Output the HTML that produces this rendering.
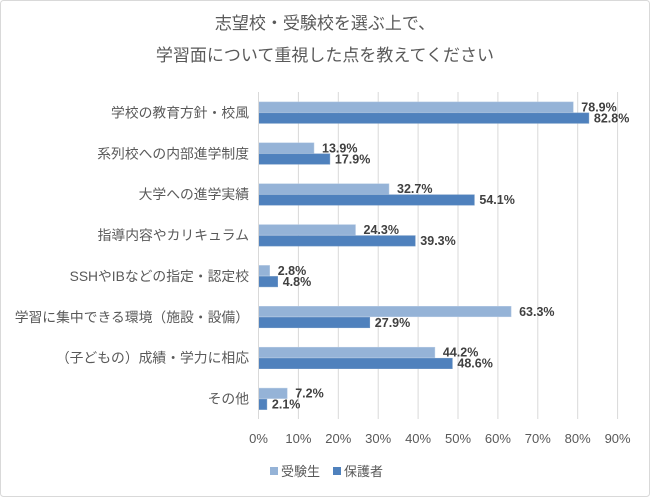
<!DOCTYPE html>
<html><head><meta charset="utf-8"><style>
body{margin:0;background:#fff}
svg text{font-family:"Liberation Sans","Noto Sans CJK JP",sans-serif}
</style></head><body>
<svg width="650" height="497" viewBox="0 0 650 497" xmlns="http://www.w3.org/2000/svg">
<rect x="0.5" y="0.5" width="649" height="496" rx="3" fill="#fff" stroke="#d9d9d9"/>
<text x="325" y="29" font-size="17" fill="#595959" text-anchor="middle">志望校・受験校を選ぶ上で、</text>
<text x="325" y="61" font-size="17" fill="#595959" text-anchor="middle">学習面について重視した点を教えてください</text>
<g stroke="#d9d9d9" stroke-width="1">
<line x1="298.4" y1="92" x2="298.4" y2="419"/><line x1="338.3" y1="92" x2="338.3" y2="419"/>
<line x1="378.2" y1="92" x2="378.2" y2="419"/><line x1="418.1" y1="92" x2="418.1" y2="419"/>
<line x1="458" y1="92" x2="458" y2="419"/><line x1="497.9" y1="92" x2="497.9" y2="419"/>
<line x1="537.8" y1="92" x2="537.8" y2="419"/><line x1="577.7" y1="92" x2="577.7" y2="419"/>
<line x1="617.6" y1="92" x2="617.6" y2="419"/>
</g>
<g font-size="13.8" fill="#595959" text-anchor="end">
<text x="249" y="117.4">学校の教育方針・校風</text>
<text x="249" y="158.3">系列校への内部進学制度</text>
<text x="249" y="199.2">大学への進学実績</text>
<text x="249" y="240.1">指導内容やカリキュラム</text>
<text x="249" y="280.9">SSHやIBなどの指定・認定校</text>
<text x="249" y="321.8">学習に集中できる環境（施設・設備）</text>
<text x="249" y="362.7">（子どもの）成績・学力に相応</text>
<text x="249" y="403.6">その他</text>
</g>
<g fill="#95b3d7" stroke="#b8cce4" stroke-width="0.5">
<rect x="258.5" y="101.9" width="314.8" height="10.5"/>
<rect x="258.5" y="142.8" width="55.5" height="10.5"/>
<rect x="258.5" y="183.7" width="130.5" height="10.5"/>
<rect x="258.5" y="224.6" width="97" height="10.5"/>
<rect x="258.5" y="265.4" width="11.2" height="10.5"/>
<rect x="258.5" y="306.3" width="252.6" height="10.5"/>
<rect x="258.5" y="347.2" width="176.4" height="10.5"/>
<rect x="258.5" y="388.1" width="28.7" height="10.5"/>
</g>
<g fill="#4f81bd" stroke="#7399c6" stroke-width="0.5">
<rect x="258.5" y="112.9" width="330.4" height="10.5"/>
<rect x="258.5" y="153.8" width="71.4" height="10.5"/>
<rect x="258.5" y="194.7" width="215.9" height="10.5"/>
<rect x="258.5" y="235.6" width="156.8" height="10.5"/>
<rect x="258.5" y="276.4" width="19.2" height="10.5"/>
<rect x="258.5" y="317.3" width="111.3" height="10.5"/>
<rect x="258.5" y="358.2" width="193.9" height="10.5"/>
<rect x="258.5" y="399.1" width="8.4" height="10.5"/>
</g>
<g font-size="12.5" font-weight="bold" fill="#404040">
<text x="581.3" y="111.4">78.9%</text><text x="593.9" y="122.4">82.8%</text>
<text x="322" y="152.3">13.9%</text><text x="334.9" y="163.3">17.9%</text>
<text x="397" y="193.2">32.7%</text><text x="479.4" y="204.2">54.1%</text>
<text x="363.5" y="234.1">24.3%</text><text x="420.3" y="245.1">39.3%</text>
<text x="277.7" y="274.9">2.8%</text><text x="282.7" y="285.9">4.8%</text>
<text x="519.1" y="315.8">63.3%</text><text x="374.8" y="326.8">27.9%</text>
<text x="442.9" y="356.7">44.2%</text><text x="457.4" y="367.7">48.6%</text>
<text x="295.2" y="397.6">7.2%</text><text x="271.9" y="408.6">2.1%</text>
</g>
<line x1="258.5" y1="92" x2="258.5" y2="419" stroke="#d9d9d9"/>
<g font-size="13" fill="#595959" text-anchor="middle">
<text x="258.5" y="443">0%</text><text x="298.4" y="443">10%</text><text x="338.3" y="443">20%</text>
<text x="378.2" y="443">30%</text><text x="418.1" y="443">40%</text><text x="458" y="443">50%</text>
<text x="497.9" y="443">60%</text><text x="537.8" y="443">70%</text><text x="577.7" y="443">80%</text>
<text x="617.6" y="443">90%</text>
</g>
<rect x="270" y="467" width="8" height="8" fill="#95b3d7"/>
<text x="281" y="476" font-size="13" fill="#595959">受験生</text>
<rect x="333" y="467" width="8" height="8" fill="#4f81bd"/>
<text x="344" y="476" font-size="13" fill="#595959">保護者</text>
</svg>
</body></html>
